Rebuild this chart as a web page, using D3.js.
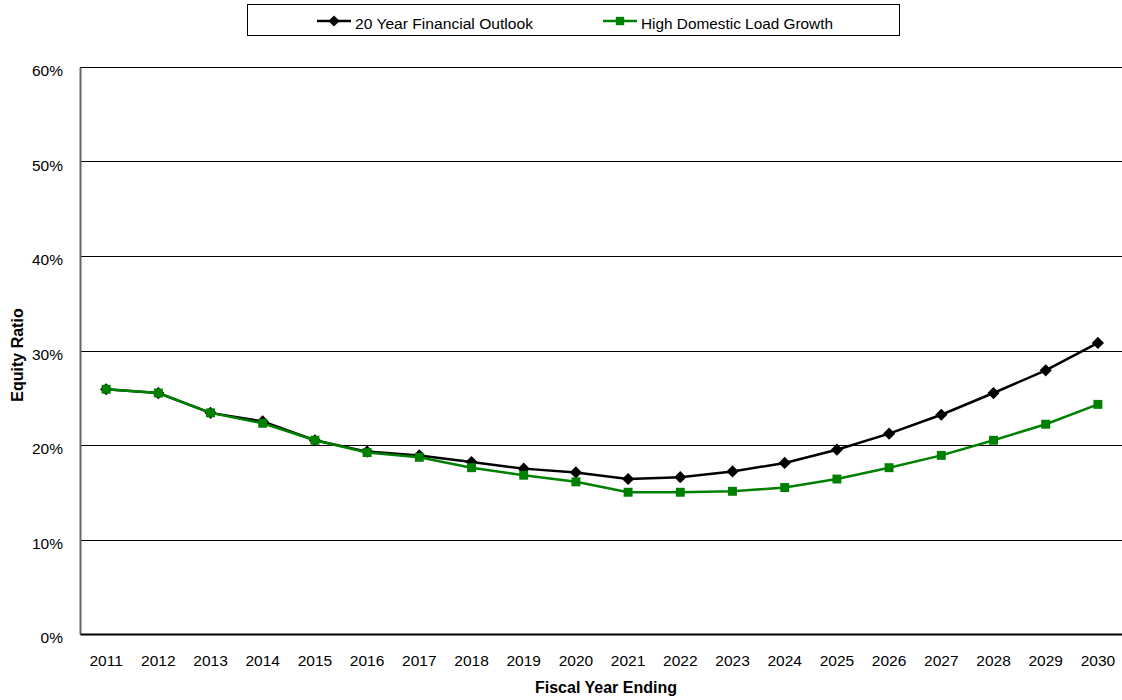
<!DOCTYPE html>
<html>
<head>
<meta charset="utf-8">
<script src="https://cdn.jsdelivr.net/npm/d3@7"></script>
<style>
  html, body { margin: 0; padding: 0; background: #fff; }
  svg { display: block; font-family: "Liberation Sans", Arial, sans-serif; }
</style>
</head>
<body>
<svg id="chart" width="1122" height="700"></svg>
<script>
// Fiscal years on the x axis
const years = ["2011","2012","2013","2014","2015","2016","2017","2018","2019","2020",
               "2021","2022","2023","2024","2025","2026","2027","2028","2029","2030"];

// Equity ratio (%) per scenario
const financialOutlook = [25.9, 25.5, 23.4, 22.5, 20.5, 19.3, 18.9, 18.2, 17.5, 17.1,
                          16.4, 16.6, 17.2, 18.1, 19.5, 21.2, 23.2, 25.5, 27.9, 30.8];
const highDomesticLoad = [25.9, 25.5, 23.4, 22.3, 20.5, 19.2, 18.7, 17.6, 16.8, 16.1,
                          15.0, 15.0, 15.1, 15.5, 16.4, 17.6, 18.9, 20.5, 22.2, 24.3];

const yTicks = [0, 10, 20, 30, 40, 50, 60];

const seriesNames = ["20 Year Financial Outlook", "High Domestic Load Growth"];

const series = [
  { name: seriesNames[0], values: financialOutlook, color: "#000000", marker: d3.symbolDiamond2 },
  { name: seriesNames[1], values: highDomesticLoad, color: "#008000", marker: d3.symbolSquare }
];

const FONT = "Liberation Sans, Arial, sans-serif";
const svg = d3.select("#chart");
const plot = { left: 80, right: 1124, top: 67, bottom: 634 };

const x = d3.scaleBand().domain(years).range([plot.left, plot.right]);
const y = d3.scaleLinear().domain([0, 60]).range([plot.bottom, plot.top]);

// Horizontal gridlines
svg.append("g")
  .selectAll("line")
  .data(yTicks.filter(t => t > 0))
  .join("line")
  .attr("x1", plot.left).attr("x2", plot.right)
  .attr("y1", d => Math.round(y(d)) + 0.5).attr("y2", d => Math.round(y(d)) + 0.5)
  .attr("stroke", "#000").attr("stroke-width", 1);

// Y axis
const yAxis = svg.append("g")
  .attr("transform", `translate(${plot.left},0)`)
  .call(d3.axisLeft(y).tickValues(yTicks).tickFormat(d => d + "%").tickSize(0).tickPadding(17));
yAxis.select(".domain").attr("stroke", "#666").attr("stroke-width", 2);
yAxis.selectAll("text").attr("font-size", 15.5).attr("fill", "#000")
  .attr("font-family", FONT).attr("dy", "0.55em");

// X axis
const xAxis = svg.append("g")
  .attr("transform", `translate(0,${plot.bottom})`)
  .call(d3.axisBottom(x).tickSize(0).tickPadding(21));
xAxis.select(".domain").attr("stroke", "#000").attr("stroke-width", 2);
xAxis.selectAll("text").attr("font-size", 15.5).attr("fill", "#000")
  .attr("font-family", FONT);

// Axis titles
svg.append("text")
  .attr("x", 606).attr("y", 693)
  .attr("text-anchor", "middle").attr("font-size", 16).attr("font-weight", "bold")
  .text("Fiscal Year Ending");

svg.append("text")
  .attr("transform", `translate(23,355) rotate(-90)`)
  .attr("text-anchor", "middle").attr("font-size", 16).attr("font-weight", "bold")
  .text("Equity Ratio");

// Lines and markers
const line = d3.line()
  .x((d, i) => x(years[i]) + x.bandwidth() / 2)
  .y(d => y(d));

series.forEach(s => {
  svg.append("path")
    .datum(s.values)
    .attr("fill", "none")
    .attr("stroke", s.color)
    .attr("stroke-width", 2.5)
    .attr("d", line);

  svg.append("g")
    .selectAll("path")
    .data(s.values)
    .join("path")
    .attr("transform", (d, i) => `translate(${x(years[i]) + x.bandwidth() / 2},${y(d)})`)
    .attr("d", d3.symbol().type(s.marker).size(s.marker === d3.symbolSquare ? 80 : 95))
    .attr("fill", s.color);
});

// Legend
const legend = svg.append("g");
legend.append("rect")
  .attr("x", 247.5).attr("y", 4.5).attr("width", 652).attr("height", 31)
  .attr("fill", "#fff").attr("stroke", "#000").attr("stroke-width", 1);

const legendItems = [
  { s: series[0], x0: 317, w: 178 },
  { s: series[1], x0: 603, w: 192 }
];
legendItems.forEach(({ s, x0, w }) => {
  const g = legend.append("g").attr("transform", `translate(${x0},21)`);
  g.append("line").attr("x1", 0).attr("x2", 34).attr("stroke", s.color).attr("stroke-width", 2.5);
  g.append("path").attr("transform", "translate(17,0)")
    .attr("d", d3.symbol().type(s.marker).size(s.marker === d3.symbolSquare ? 70 : 80))
    .attr("fill", s.color);
  g.append("text").attr("x", 38).attr("y", 7.5).attr("font-size", 15.5)
    .attr("textLength", w).attr("lengthAdjust", "spacingAndGlyphs")
    .text(s.name);
});
</script>
</body>
</html>
